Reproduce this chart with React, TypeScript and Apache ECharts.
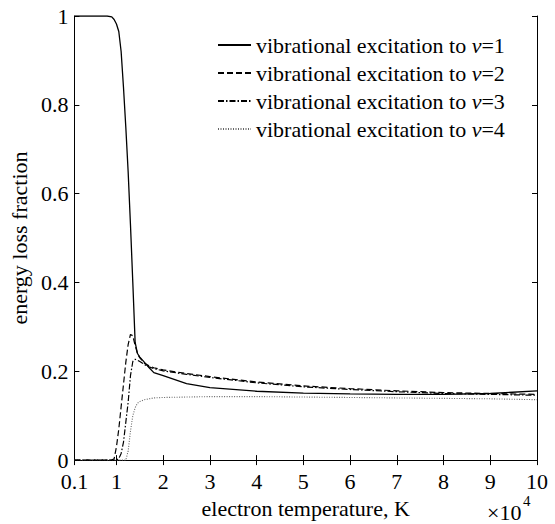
import React, { useEffect, useRef } from "react";
import * as echarts from "echarts";

const temps = [0.1, 0.3, 0.5, 0.7, 0.8, 0.9, 0.95, 1.0, 1.05, 1.1, 1.15, 1.2, 1.25, 1.3, 1.35, 1.4, 1.45, 1.5, 1.6, 1.7, 1.8, 2.0, 2.5, 3, 4, 5, 6, 7, 8, 9, 10];
const v1 = [1, 1, 1, 1, 1, 0.998, 0.992, 0.982, 0.965, 0.92, 0.84, 0.75, 0.65, 0.53, 0.4, 0.265, 0.24, 0.232, 0.22, 0.208, 0.197, 0.19, 0.172, 0.163, 0.155, 0.151, 0.149, 0.148, 0.148, 0.15, 0.156];
const v2 = [0, 0, 0, 0, 0, 0, 0.003, 0.03, 0.07, 0.12, 0.17, 0.22, 0.26, 0.283, 0.28, 0.258, 0.24, 0.23, 0.218, 0.212, 0.208, 0.203, 0.195, 0.188, 0.176, 0.167, 0.161, 0.156, 0.152, 0.15, 0.148];
const v3 = [0, 0, 0, 0, 0, 0, 0, 0, 0.003, 0.015, 0.04, 0.085, 0.13, 0.19, 0.222, 0.227, 0.225, 0.222, 0.215, 0.21, 0.206, 0.201, 0.193, 0.186, 0.174, 0.165, 0.159, 0.154, 0.15, 0.148, 0.146];
const v4 = [0, 0, 0, 0, 0, 0, 0, 0, 0, 0, 0, 0, 0.02, 0.065, 0.1, 0.118, 0.128, 0.132, 0.136, 0.138, 0.14, 0.141, 0.142, 0.143, 0.143, 0.142, 0.141, 0.14, 0.139, 0.138, 0.136];

const xTicks = [0.1, 1, 2, 3, 4, 5, 6, 7, 8, 9, 10];
const seriesNames = [
  "vibrational excitation to v=1",
  "vibrational excitation to v=2",
  "vibrational excitation to v=3",
  "vibrational excitation to v=4",
];

const FONT = "Liberation Serif";

export default function App() {
  const ref = useRef<HTMLDivElement>(null);
  useEffect(() => {
    if (!ref.current) return;
    const chart = echarts.init(ref.current, undefined, { renderer: "svg" });
    const pair = (ys: number[]) => temps.map((t, i) => [t, ys[i]]);
    const styles = [
      { type: "solid", color: "#000", width: 1.3 },
      { type: [6, 3], color: "#000", width: 1.2 },
      { type: [6, 2, 1.5, 2], color: "#000", width: 1.2 },
      { type: [1, 1.5], color: "#666", width: 1.1 },
    ];
    const data = [v1, v2, v3, v4];
    const axisLine = { show: true, lineStyle: { color: "#000", width: 1 } };
    const txt = { fontFamily: FONT, fontSize: 22, color: "#000" };
    chart.setOption({
      animation: false,
      backgroundColor: "#fff",
      grid: { left: 73, right: 18, top: 16, bottom: 63 },
      legend: {
        orient: "vertical",
        left: 212,
        top: 29,
        itemWidth: 33,
        itemHeight: 14,
        itemGap: 6,
        data: seriesNames,
        itemStyle: { opacity: 0 },
        formatter: (name: string) =>
          `{n|vibrational excitation to }{i|v}{n|=${name.slice(-1)}}`,
        textStyle: {
          ...txt,
          lineHeight: 22,
          rich: {
            n: { ...txt, lineHeight: 22 },
            i: { ...txt, lineHeight: 22, fontStyle: "italic" },
          },
        },
      },
      xAxis: [
        {
          type: "value",
          min: 0.1,
          max: 10,
          position: "bottom",
          name: "electron temperature, K",
          nameLocation: "middle",
          nameGap: 36,
          nameTextStyle: { ...txt },
          axisLine,
          splitLine: { show: false },
          axisTick: { inside: true, length: 5, lineStyle: { color: "#000" }, customValues: xTicks },
          axisLabel: {
            ...txt,
            margin: 10,
            customValues: xTicks,
            formatter: (v: number) => String(v),
          },
        },
        {
          type: "value",
          min: 0.1,
          max: 10,
          position: "top",
          axisLine,
          splitLine: { show: false },
          axisTick: { inside: true, length: 5, lineStyle: { color: "#000" }, customValues: xTicks },
          axisLabel: { show: false },
        },
      ],
      yAxis: [
        {
          type: "value",
          min: 0,
          max: 1,
          interval: 0.2,
          position: "left",
          name: "energy loss fraction",
          nameLocation: "middle",
          nameGap: 33,
          nameTextStyle: { ...txt },
          axisLine,
          splitLine: { show: false },
          axisTick: { inside: true, length: 5, lineStyle: { color: "#000" } },
          axisLabel: { ...txt, margin: 6 },
        },
        {
          type: "value",
          min: 0,
          max: 1,
          interval: 0.2,
          position: "right",
          axisLine,
          splitLine: { show: false },
          axisTick: { inside: true, length: 5, lineStyle: { color: "#000" } },
          axisLabel: { show: false },
        },
      ],
      graphic: [
        {
          type: "text",
          left: 487,
          top: 501,
          style: { text: "×10", fontFamily: FONT, fontSize: 22, fill: "#000" },
        },
        {
          type: "text",
          left: 523,
          top: 493,
          style: { text: "4", fontFamily: FONT, fontSize: 15, fill: "#000" },
        },
      ],
      series: seriesNames.map((name, k) => ({
        name,
        type: "line",
        xAxisIndex: 0,
        yAxisIndex: 0,
        data: pair(data[k]),
        showSymbol: false,
        symbol: "none",
        smooth: false,
        lineStyle: styles[k],
        itemStyle: { color: styles[k].color },
        z: 10 - k,
      })),
    });
    return () => chart.dispose();
  }, []);
  return (
    <div
      ref={ref}
      style={{ position: "fixed", left: 0, top: 0, width: 555, height: 524, background: "#fff" }}
    />
  );
}
